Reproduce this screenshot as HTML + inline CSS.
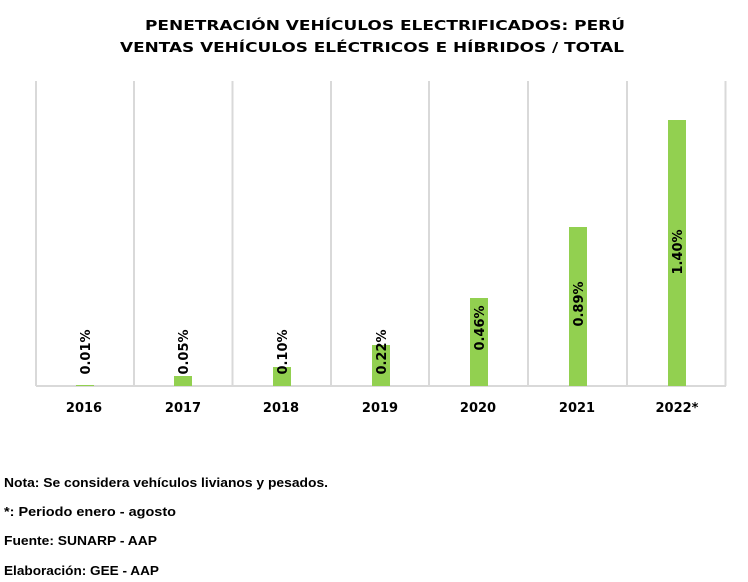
<!DOCTYPE html>
<html><head><meta charset="utf-8"><style>
html,body{margin:0;padding:0;background:#fff;}
svg{display:block;}
text{font-family:"DejaVu Sans","Liberation Sans",sans-serif;font-weight:bold;fill:#000;}
.n{font-family:"Liberation Sans",sans-serif;font-size:13px;}
</style></head><body>
<svg width="748" height="582" viewBox="0 0 748 582" xmlns="http://www.w3.org/2000/svg">
<rect width="748" height="582" fill="#fff"/>
<text x="385" y="30" font-size="13" text-anchor="middle" textLength="480" lengthAdjust="spacingAndGlyphs">PENETRACIÓN  VEHÍCULOS  ELECTRIFICADOS:  PERÚ</text>
<text x="372" y="52" font-size="13" text-anchor="middle" textLength="504" lengthAdjust="spacingAndGlyphs">VENTAS  VEHÍCULOS  ELÉCTRICOS  E  HÍBRIDOS  /  TOTAL</text>
<g stroke="#d9d9d9" stroke-width="2">
<line x1="36" y1="81" x2="36" y2="386"/>
<line x1="134" y1="81" x2="134" y2="386"/>
<line x1="232.5" y1="81" x2="232.5" y2="386"/>
<line x1="331" y1="81" x2="331" y2="386"/>
<line x1="429" y1="81" x2="429" y2="386"/>
<line x1="528" y1="81" x2="528" y2="386"/>
<line x1="627" y1="81" x2="627" y2="386"/>
<line x1="725.5" y1="81" x2="725.5" y2="386"/>
<line x1="36" y1="386" x2="726" y2="386"/>
</g>
<g fill="#92d050">
<rect x="76" y="385" width="18" height="1"/>
<rect x="174" y="376" width="18" height="10"/>
<rect x="273" y="367" width="18" height="19"/>
<rect x="372" y="345" width="18" height="41"/>
<rect x="470" y="298" width="18" height="88"/>
<rect x="569" y="227" width="18" height="159"/>
<rect x="668" y="120" width="18" height="266"/>
</g>
<g font-size="13">
<text transform="translate(90,352) rotate(-90)" text-anchor="middle">0.01%</text>
<text transform="translate(188,352) rotate(-90)" text-anchor="middle">0.05%</text>
<text transform="translate(287,352) rotate(-90)" text-anchor="middle">0.10%</text>
<text transform="translate(386,352) rotate(-90)" text-anchor="middle">0.22%</text>
<text transform="translate(484,328) rotate(-90)" text-anchor="middle">0.46%</text>
<text transform="translate(583,304) rotate(-90)" text-anchor="middle">0.89%</text>
<text transform="translate(682,252) rotate(-90)" text-anchor="middle">1.40%</text>
</g>
<g font-size="13" text-anchor="middle">
<text x="84" y="412">2016</text>
<text x="183" y="412">2017</text>
<text x="281" y="412">2018</text>
<text x="380" y="412">2019</text>
<text x="478" y="412">2020</text>
<text x="577" y="412">2021</text>
<text x="677" y="412">2022*</text>
</g>
<text class="n" x="4" y="487" textLength="324" lengthAdjust="spacingAndGlyphs">Nota: Se considera vehículos livianos y pesados.</text>
<text class="n" x="4" y="516" textLength="172" lengthAdjust="spacingAndGlyphs">*: Periodo enero - agosto</text>
<text class="n" x="4" y="545" textLength="153" lengthAdjust="spacingAndGlyphs">Fuente: SUNARP - AAP</text>
<text class="n" x="4" y="575" textLength="155" lengthAdjust="spacingAndGlyphs">Elaboración: GEE - AAP</text>
</svg>
</body></html>
